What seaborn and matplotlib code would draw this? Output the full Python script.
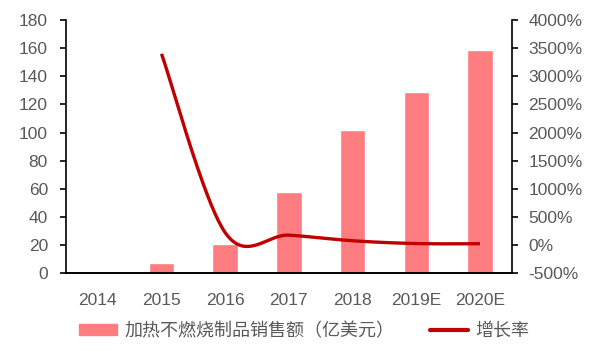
import numpy as np
import pandas as pd
import seaborn as sns
from matplotlib import pyplot as plt
from matplotlib.lines import Line2D
from matplotlib.patches import Patch

# data
years = ["2014", "2015", "2016", "2017", "2018", "2019E", "2020E"]
sales = [0, 7, 21, 58, 102, 129, 159]          # 亿美元
growth = [None, 3400, 220, 176, 76, 26, 23]     # %

sns.set_theme(style="white")
plt.rcParams['font.family'] = ['Liberation Sans', 'Noto Sans CJK SC', 'DejaVu Sans']

bar_color = "#FF7C80"
line_color = "#C00000"
text_color = "#595959"

df = pd.DataFrame({"year": years, "sales": sales})

fig = plt.figure(figsize=(6, 3.52), dpi=100)
ax = fig.add_axes([0.11, 0.224, 0.743, 0.719])
sns.barplot(data=df, x="year", y="sales", color=bar_color, width=0.4,
            saturation=1, ax=ax)
ax.set_xlim(-0.5, 6.5)
ax.set_ylim(0, 180)
ax.set_yticks(range(0, 181, 20))
ax.set_xlabel("")
ax.set_ylabel("")

# smoothed growth line (bezier smoothing like Excel's smoothed line)
gx = np.array([i for i, g in enumerate(growth) if g is not None], dtype=float)
gy = np.array([g for g in growth if g is not None], dtype=float)
sx, sy = [], []
n = len(gx)
for i in range(n - 1):
    p0 = (gx[max(i - 1, 0)], gy[max(i - 1, 0)])
    p1 = (gx[i], gy[i])
    p2 = (gx[i + 1], gy[i + 1])
    p3 = (gx[min(i + 2, n - 1)], gy[min(i + 2, n - 1)])
    c1 = (p1[0] + (p2[0] - p0[0]) / 6, p1[1] + (p2[1] - p0[1]) / 6)
    c2 = (p2[0] - (p3[0] - p1[0]) / 6, p2[1] - (p3[1] - p1[1]) / 6)
    t = np.linspace(0, 1, 40)
    bx = (1 - t) ** 3 * p1[0] + 3 * (1 - t) ** 2 * t * c1[0] + 3 * (1 - t) * t ** 2 * c2[0] + t ** 3 * p2[0]
    by = (1 - t) ** 3 * p1[1] + 3 * (1 - t) ** 2 * t * c1[1] + 3 * (1 - t) * t ** 2 * c2[1] + t ** 3 * p2[1]
    sx.extend(bx)
    sy.extend(by)

ax2 = ax.twinx()
ax2.plot(sx, sy, color=line_color, lw=2.4, solid_capstyle="butt")
ax2.set_ylim(-500, 4000)
ax2.set_yticks(range(-500, 4001, 500))
ax2.set_yticklabels([f"{v}%" for v in range(-500, 4001, 500)])

for a in (ax, ax2):
    for s in a.spines.values():
        s.set_color("black")
        s.set_linewidth(1.2)
    a.spines["top"].set_visible(False)
    a.tick_params(axis="y", colors="black", labelcolor=text_color,
                  labelsize=12.5, length=4, width=1.2, direction="out")
    a.grid(False)
ax.spines["right"].set_visible(False)
ax2.spines["left"].set_visible(False)
ax.tick_params(axis="y", left=True, pad=9)
ax2.tick_params(axis="y", right=True, pad=8)
ax.tick_params(axis="x", bottom=False, labelcolor=text_color, labelsize=12.5, pad=8)

handles = [Patch(color=bar_color), Line2D([0], [0], color=line_color, lw=3)]
labels = ["加热不燃烧制品销售额（亿美元）", "增长率"]
fig.legend(handles, labels, loc="lower center", bbox_to_anchor=(0.507, -0.012),
           ncol=2, frameon=False, prop={"family": ["Noto Sans CJK SC"], "size": 13},
           labelcolor=text_color, handlelength=2.1, handleheight=0.55,
           handletextpad=0.4, columnspacing=2.0)

plt.savefig("out.png", dpi=100)
